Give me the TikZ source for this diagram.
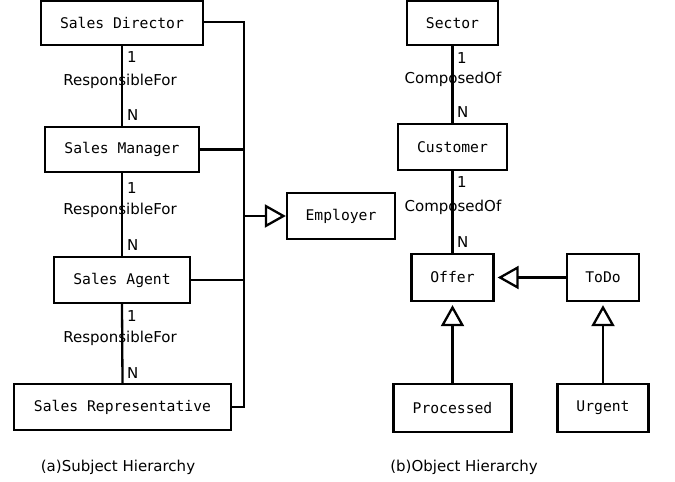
\documentclass[tikz,border=0pt]{standalone}
\usepackage{fontspec}
\setmainfont{DejaVu Sans}
\newfontfamily\boxfont{DejaVu Sans Mono}
\usetikzlibrary{arrows.meta}
\tikzset{
  entity/.style={draw, line width=2.3pt, font=\boxfont\fontsize{14.7}{16}\selectfont, inner sep=0pt, anchor=center},
  lbl/.style={font=\fontsize{15}{16}\selectfont, inner sep=0pt},
  card/.style={font=\fontsize{15}{16}\selectfont, inner sep=0pt, anchor=west},
  captext/.style={font=\fontsize{15}{16}\selectfont, inner sep=0pt},
  conn/.style={line width=2.3pt},
  isa/.style={line width=2.3pt, -{Triangle[open, length=21pt, width=23pt]}}
}
\begin{document}
\begin{tikzpicture}[x=1pt, y=-1pt]
\useasboundingbox (0,0) rectangle (675,482);
% left: subject hierarchy
\node[entity, minimum width=162pt, minimum height=44pt] (SD) at (122,23) {Sales Director};
\node[entity, minimum width=154pt, minimum height=45pt] (SM) at (122,149.5) {Sales Manager};
\node[entity, minimum width=136pt, minimum height=46pt] (SA) at (122,280) {Sales Agent};
\node[entity, minimum width=217pt, minimum height=46pt] (SR) at (122.5,407) {Sales Representative};
\node[entity, minimum width=108pt, minimum height=46pt] (EM) at (341,216) {Employer};
\coordinate (bt) at (244,22);
\coordinate (bb) at (244,407);
\draw[conn] (SD.south) -- (SM.north);
\draw[conn] (SM.south) -- (SA.north);
\draw[conn] (SA.south) -- (SR.north);
\draw[conn] (SD.east |- bt) -- (bt) -- (bb) -- (SR.east |- bb);
\draw[conn] (SM.east) -- (SM.east -| bt);
\draw[conn] (SA.east) -- (SA.east -| bt);
\draw[isa] (EM.west -| bt) -- (EM.west);
\node[card] (c1a) at (127,57) {1};
\node[lbl] (r1) at (120,81) {ResponsibleFor};
\node[card] (c1b) at (127,115) {N};
\node[card] (c2a) at (127,188) {1};
\node[lbl] (r2) at (120,210) {ResponsibleFor};
\node[card] (c2b) at (127,245) {N};
\node[card] (c3a) at (127,316) {1};
\node[lbl] (r3) at (120,338) {ResponsibleFor};
\node[card] (c3b) at (127,373) {N};
\node[captext] (capa) at (118,467) {(a)Subject Hierarchy};
% right: object hierarchy
\node[entity, minimum width=91pt, minimum height=44pt] (SE) at (452.5,23) {Sector};
\node[entity, minimum width=109pt, minimum height=46pt] (CU) at (452.5,147) {Customer};
\node[entity, minimum width=82pt, minimum height=47pt] (OF) at (452.5,277.5) {Offer};
\node[entity, minimum width=72pt, minimum height=47pt] (TD) at (603,277.5) {ToDo};
\node[entity, minimum width=118pt, minimum height=48pt] (PR) at (452.5,408) {Processed};
\node[entity, minimum width=91pt, minimum height=48pt] (UR) at (603,408) {Urgent};
\draw[conn] (SE.south) -- (CU.north);
\draw[conn] (CU.south) -- (OF.north);
\draw[isa, shorten >=3pt] (TD.west) -- (OF.east);
\draw[isa, shorten >=3pt] (PR.north) -- (OF.south);
\draw[isa, shorten >=3pt] (UR.north) -- (TD.south);
\node[card] (c4a) at (457,58) {1};
\node[lbl] (k1) at (453,79) {ComposedOf};
\node[card] (c4b) at (457,112) {N};
\node[card] (c5a) at (457,182) {1};
\node[lbl] (k2) at (453,207) {ComposedOf};
\node[card] (c5b) at (457,242) {N};
\node[captext] (capb) at (464,467) {(b)Object Hierarchy};
\end{tikzpicture}
\end{document}
